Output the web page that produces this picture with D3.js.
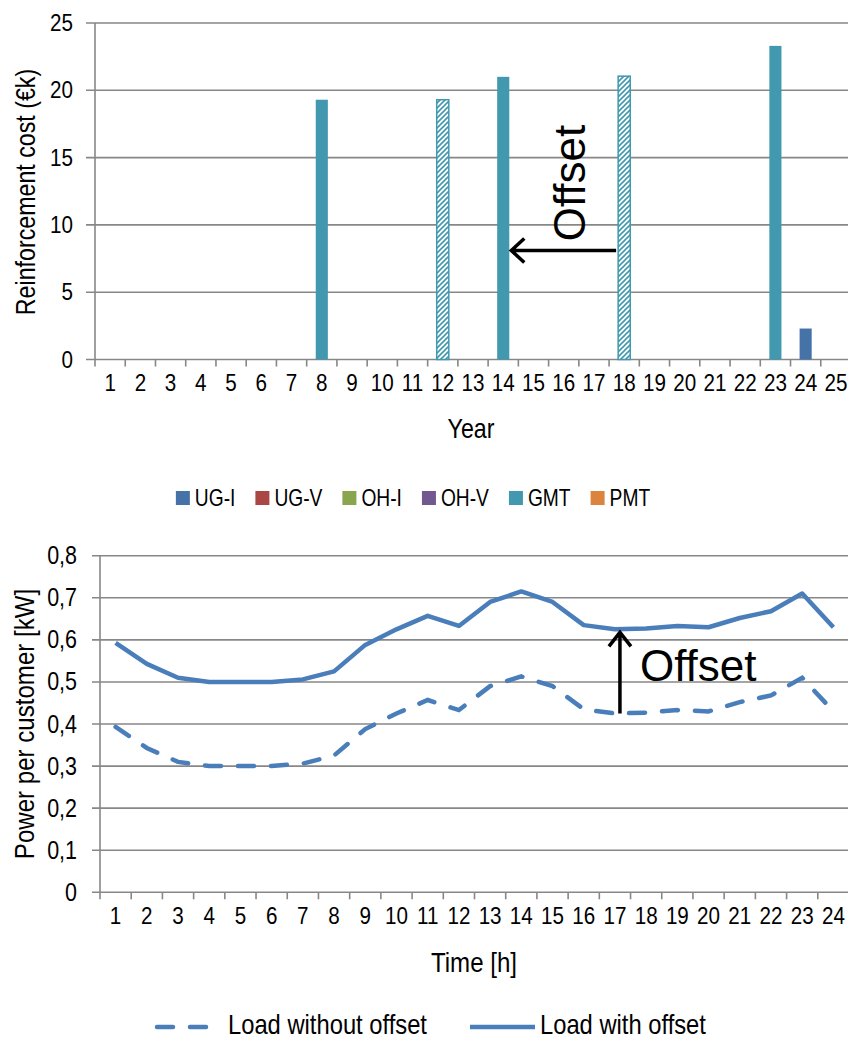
<!DOCTYPE html>
<html>
<head>
<meta charset="utf-8">
<script src="https://cdn.jsdelivr.net/npm/d3@7"></script>
<style>
  body { margin: 0; background: #fff; }
  text { font-family: "Liberation Sans", Arial, sans-serif; fill: #000; }
</style>
</head>
<body>
<svg id="chart" width="848" height="1039"></svg>
<script>
// ---- top chart data: reinforcement cost per year (k EUR)
const years = [1, 2, 3, 4, 5, 6, 7, 8, 9, 10, 11, 12, 13, 14, 15, 16, 17, 18, 19, 20, 21, 22, 23, 24, 25];
const costTicks = [0, 5, 10, 15, 20, 25];
const seriesNames = ["UG-I", "UG-V", "OH-I", "OH-V", "GMT", "PMT"];
const seriesColors = ["#4572A7", "#AA4643", "#89A54E", "#71588F", "#4198AF", "#DB843D"];
const ugiYears = [24];
const ugiCost = [2.3];
const gmtYears = [8, 14, 23];
const gmtCost = [19.3, 21.0, 23.3];
// hatched bars = GMT investments shifted by the offset
const gmtOffsetYears = [12, 18];
const gmtOffsetCost = [19.3, 21.05];

// ---- bottom chart data: power per customer (kW)
const hours = [1, 2, 3, 4, 5, 6, 7, 8, 9, 10, 11, 12, 13, 14, 15, 16, 17, 18, 19, 20, 21, 22, 23, 24];
const powerTicks = [0, 0.1, 0.2, 0.3, 0.4, 0.5, 0.6, 0.7, 0.8];
const loadWithout = [0.393, 0.343, 0.310, 0.300, 0.300, 0.300, 0.306, 0.325, 0.388, 0.425, 0.457, 0.433,
                     0.490, 0.513, 0.490, 0.435, 0.425, 0.427, 0.433, 0.430, 0.452, 0.468, 0.510, 0.430];
const loadWith = [0.593, 0.543, 0.510, 0.500, 0.500, 0.500, 0.506, 0.525, 0.588, 0.625, 0.657, 0.633,
                  0.690, 0.715, 0.690, 0.635, 0.625, 0.627, 0.633, 0.630, 0.652, 0.668, 0.710, 0.630];

const gridColor = "#878787";
const lineColor = "#4A7EBB";
const narrow = 0.86; // the chart text is a condensed face, squeeze it horizontally
const svg = d3.select("#chart");

// squeeze text horizontally around its own anchor point
function squeeze(sel, k = narrow) {
  sel.each(function() {
    const t = d3.select(this);
    const tx = +t.attr("x") || 0, ty = +t.attr("y") || 0;
    const prev = t.attr("transform") || "";
    t.attr("transform", `${prev} translate(${tx},${ty}) scale(${k},1) translate(${-tx},${-ty})`);
  });
}

const defs = svg.append("defs");
const hatch = defs.append("pattern")
  .attr("id", "hatch")
  .attr("patternUnits", "userSpaceOnUse")
  .attr("width", 5)
  .attr("height", 5);
hatch.append("rect").attr("width", 5).attr("height", 5).attr("fill", "#fff");
hatch.append("path")
  .attr("d", "M-1,1 l2,-2 M0,5 l5,-5 M4,6 l2,-2")
  .attr("stroke", seriesColors[4])
  .attr("stroke-width", 1.6);

// ================= top chart =================
const x = d3.scaleBand().domain(years).range([95, 851]);
const y = d3.scaleLinear().domain([0, 25]).range([359.5, 23]);
const bw = x.bandwidth();

const topG = svg.append("g");

topG.selectAll(".grid")
  .data(costTicks)
  .join("line")
    .attr("class", "grid")
    .attr("x1", 86).attr("x2", 848)
    .attr("y1", d => y(d)).attr("y2", d => y(d))
    .attr("stroke", gridColor)
    .attr("stroke-width", 1.6);

topG.append("line")
  .attr("x1", 95).attr("x2", 95)
  .attr("y1", y(25)).attr("y2", y(0))
  .attr("stroke", gridColor).attr("stroke-width", 1.6);

topG.selectAll(".xtick")
  .data(years.map(d => x(d)).concat([x.range()[1]]))
  .join("line")
    .attr("class", "xtick")
    .attr("x1", d => d).attr("x2", d => d)
    .attr("y1", y(0)).attr("y2", y(0) + 7)
    .attr("stroke", gridColor).attr("stroke-width", 1.6);

const yAxis = topG.append("g")
  .attr("transform", "translate(95,0)")
  .call(d3.axisLeft(y).tickValues(costTicks).tickSize(0).tickPadding(22));
yAxis.select(".domain").remove();
yAxis.selectAll("text").attr("font-size", 24).attr("font-family", null).call(squeeze);

const xAxis = topG.append("g")
  .attr("transform", `translate(0,${y(0)})`)
  .call(d3.axisBottom(x).tickSize(0).tickPadding(14));
xAxis.select(".domain").remove();
xAxis.selectAll("text").attr("font-size", 24).attr("font-family", null).call(squeeze);

function drawBars(cls, yrs, vals, fill, stroke) {
  topG.selectAll("." + cls)
    .data(yrs.map((d, i) => ({ year: d, value: vals[i] })))
    .join("rect")
      .attr("class", cls)
      .attr("x", d => x(d.year) + bw * 0.3)
      .attr("width", bw * 0.4)
      .attr("y", d => y(d.value))
      .attr("height", d => y(0) - y(d.value))
      .attr("fill", fill)
      .attr("stroke", stroke)
      .attr("stroke-width", stroke ? 1.5 : 0);
}
drawBars("ugi", ugiYears, ugiCost, seriesColors[0], null);
drawBars("gmt", gmtYears, gmtCost, seriesColors[4], null);
drawBars("gmtoff", gmtOffsetYears, gmtOffsetCost, "url(#hatch)", seriesColors[4]);

topG.append("text")
  .attr("transform", "translate(25,192) rotate(-90)")
  .attr("text-anchor", "middle")
  .attr("dominant-baseline", "central")
  .attr("font-size", 27)
  .text("Reinforcement cost (€k)")
  .call(squeeze);

topG.append("text")
  .attr("x", 471).attr("y", 428)
  .attr("text-anchor", "middle")
  .attr("dominant-baseline", "central")
  .attr("font-size", 27)
  .text("Year")
  .call(squeeze);

// offset arrow (year 18 -> year 14)
const arrowY = y(8.1);
const arrowHead = x(14) + bw * 0.7 + 2;
topG.append("path")
  .attr("d", `M${x(18) + bw * 0.3 - 2},${arrowY} H${arrowHead} M${arrowHead + 13},${arrowY - 12} L${arrowHead},${arrowY} L${arrowHead + 13},${arrowY + 12}`)
  .attr("fill", "none").attr("stroke", "#000").attr("stroke-width", 3.5);
topG.append("text")
  .attr("transform", "translate(585,183) rotate(-90)")
  .attr("text-anchor", "middle")
  .attr("font-size", 44)
  .text("Offset");

// legend
const legTop = topG.append("g");
let lx = 0;
seriesNames.forEach((name, i) => {
  const g = legTop.append("g").attr("transform", `translate(${lx},0)`);
  g.append("rect").attr("x", 0).attr("y", 491).attr("width", 14).attr("height", 14).attr("fill", seriesColors[i]);
  const t = g.append("text").attr("x", 19).attr("y", 506).attr("font-size", 24).text(name);
  lx += 19 + t.node().getComputedTextLength() * 0.8 + 20;
  t.call(squeeze, 0.8);
});
legTop.attr("transform", `translate(${171 + (484 - (lx - 20)) / 2},0)`);

// ================= bottom chart =================
const x2 = d3.scaleBand().domain(hours).range([100, 849]);
const y2 = d3.scaleLinear().domain([0, 0.8]).range([892.3, 555.7]);
const bw2 = x2.bandwidth();
const bottomG = svg.append("g");

bottomG.selectAll(".grid2")
  .data(powerTicks)
  .join("line")
    .attr("class", "grid2")
    .attr("x1", 92).attr("x2", 848)
    .attr("y1", d => y2(d)).attr("y2", d => y2(d))
    .attr("stroke", gridColor)
    .attr("stroke-width", 1.6);

bottomG.append("line")
  .attr("x1", 100).attr("x2", 100)
  .attr("y1", y2(0.8)).attr("y2", y2(0))
  .attr("stroke", gridColor).attr("stroke-width", 1.6);

bottomG.selectAll(".xtick2")
  .data(hours.map(d => x2(d)).concat([x2.range()[1]]))
  .join("line")
    .attr("class", "xtick2")
    .attr("x1", d => d).attr("x2", d => d)
    .attr("y1", y2(0)).attr("y2", y2(0) + 7)
    .attr("stroke", gridColor).attr("stroke-width", 1.6);

const commaFmt = d => d === 0 ? "0" : d3.format(".1f")(d).replace(".", ",");
const yAxis2 = bottomG.append("g")
  .attr("transform", "translate(100,0)")
  .call(d3.axisLeft(y2).tickValues(powerTicks).tickFormat(commaFmt).tickSize(0).tickPadding(23));
yAxis2.select(".domain").remove();
yAxis2.selectAll("text").attr("font-size", 25).attr("font-family", null).call(squeeze);

const xAxis2 = bottomG.append("g")
  .attr("transform", `translate(0,${y2(0)})`)
  .call(d3.axisBottom(x2).tickSize(0).tickPadding(15));
xAxis2.select(".domain").remove();
xAxis2.selectAll("text").attr("font-size", 24).attr("font-family", null).call(squeeze);

const line = d3.line()
  .x((d, i) => x2(hours[i]) + bw2 / 2)
  .y(d => y2(d));

bottomG.append("path")
  .datum(loadWithout)
  .attr("d", line)
  .attr("fill", "none")
  .attr("stroke", lineColor)
  .attr("stroke-width", 4.5)
  .attr("stroke-linecap", "round")
  .attr("stroke-dasharray", "16,17");

bottomG.append("path")
  .datum(loadWith)
  .attr("d", line)
  .attr("fill", "none")
  .attr("stroke", lineColor)
  .attr("stroke-width", 4.5)
  .attr("stroke-linejoin", "round");

bottomG.append("text")
  .attr("transform", "translate(24,724) rotate(-90)")
  .attr("text-anchor", "middle")
  .attr("dominant-baseline", "central")
  .attr("font-size", 28)
  .text("Power per customer [kW]")
  .call(squeeze);

bottomG.append("text")
  .attr("x", 474).attr("y", 962)
  .attr("text-anchor", "middle")
  .attr("dominant-baseline", "central")
  .attr("font-size", 28)
  .text("Time [h]")
  .call(squeeze);

// offset arrow at hour 17
const ax = x2(17) + bw2 / 2 + 5;
const aTop = y2(loadWith[16]) + 3;
bottomG.append("path")
  .attr("d", `M${ax},${y2(loadWithout[16])} V${aTop} M${ax - 11},${aTop + 14} L${ax},${aTop} L${ax + 11},${aTop + 14}`)
  .attr("fill", "none").attr("stroke", "#000").attr("stroke-width", 3.5);
bottomG.append("text")
  .attr("x", ax + 20).attr("y", 681)
  .attr("font-size", 44)
  .text("Offset");

// legend
const leg2 = bottomG.append("g");
leg2.append("line")
  .attr("x1", 157).attr("x2", 213).attr("y1", 1027).attr("y2", 1027)
  .attr("stroke", lineColor).attr("stroke-width", 4.5)
  .attr("stroke-linecap", "round").attr("stroke-dasharray", "16,17");
leg2.append("text")
  .attr("x", 228).attr("y", 1024)
  .attr("dominant-baseline", "central")
  .attr("font-size", 27)
  .text("Load without offset")
  .call(squeeze, 0.88);
leg2.append("line")
  .attr("x1", 470).attr("x2", 535).attr("y1", 1027).attr("y2", 1027)
  .attr("stroke", lineColor).attr("stroke-width", 4.5);
leg2.append("text")
  .attr("x", 540).attr("y", 1024)
  .attr("dominant-baseline", "central")
  .attr("font-size", 27)
  .text("Load with offset")
  .call(squeeze, 0.88);
</script>
</body>
</html>
